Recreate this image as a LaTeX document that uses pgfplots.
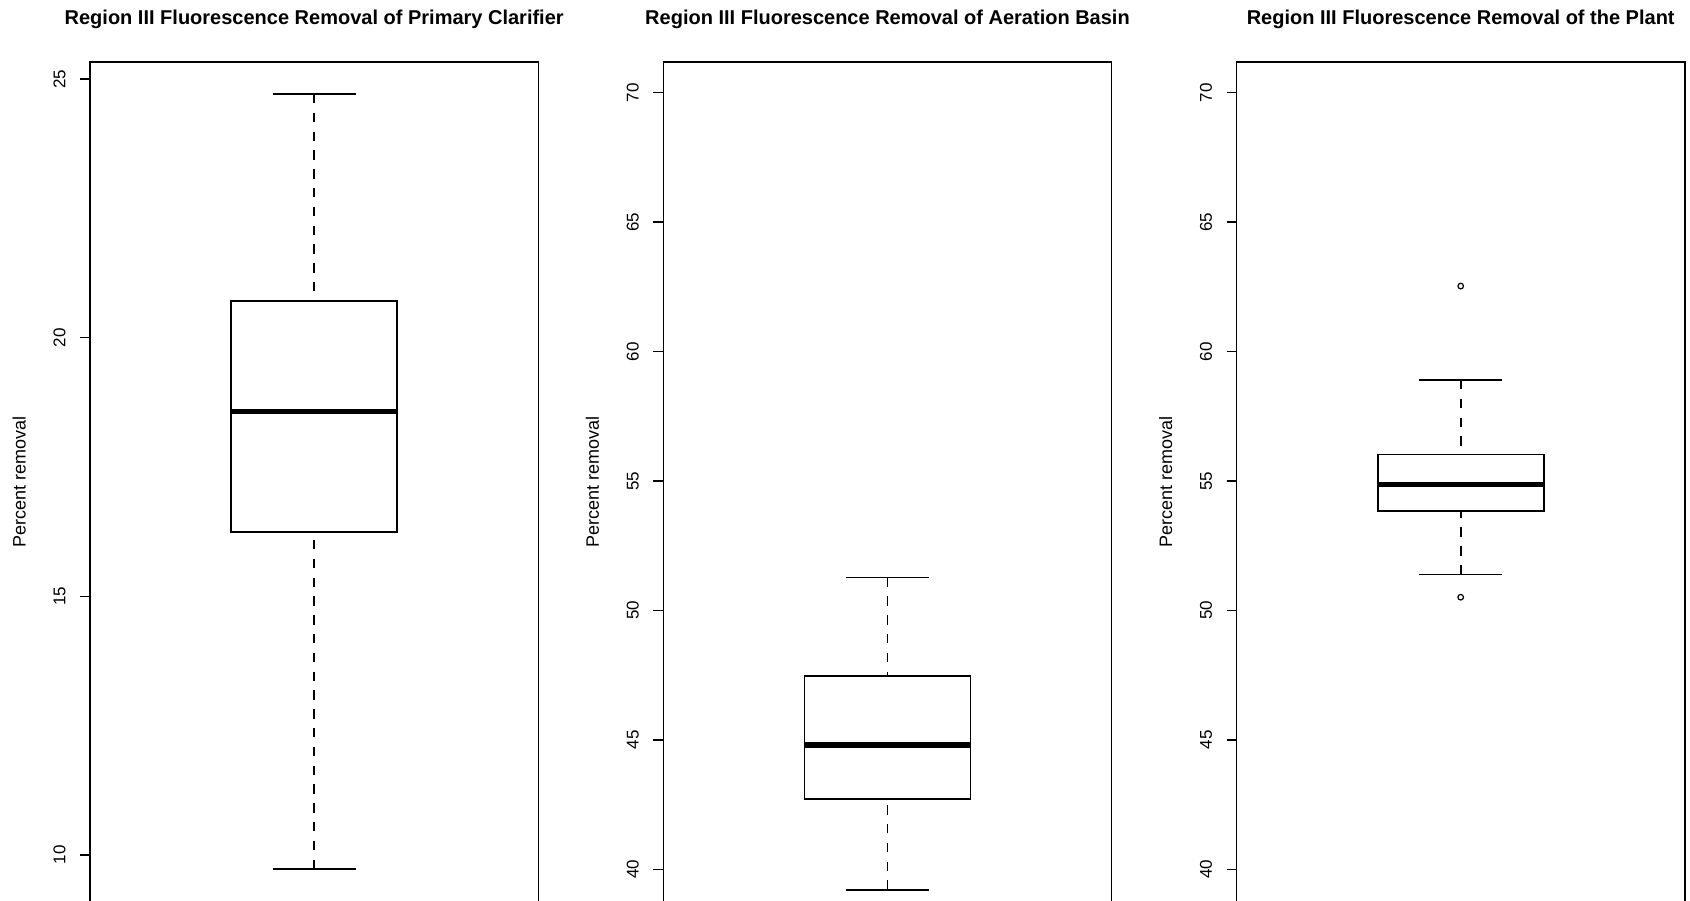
\documentclass[border=0pt]{standalone}
\usepackage{fontspec}
\setmainfont{Liberation Sans}
\usepackage{pgfplots}
\pgfplotsset{compat=1.18}
\pgfplotsset{
  rplot/.style={
    scale only axis, width=224.2pt, height=420pt, anchor=south west,
    xmin=0.46, xmax=1.54, xtick=\empty,
    axis line style={line width=0.7pt},
    ytick pos=left, tick align=outside, major tick length=5pt,
    tick style={line width=0.7pt, black},
    yticklabel style={rotate=90, anchor=south, inner sep=0pt, font=\fontsize{8.5}{10}\selectfont},
    yticklabel shift=7pt,
    /pgf/number format/assume math mode=true,
    ylabel={Percent removal},
    ylabel style={at={(axis description cs:-0.158,0.5)}, anchor=center, font=\fontsize{9}{11}\selectfont},
    every axis title/.style={at={(axis description cs:0.5,1)}, anchor=base, yshift=18.6pt, font=\bfseries\fontsize{10}{12}\selectfont},
  },
  rbox/.style={black, line width=0.9pt, line join=miter, mark=none},
  rmed/.style={black, line width=2.6pt, mark=none},
  rwhisk/.style={black, line width=0.9pt, dash pattern=on 4.7pt off 4.7pt, mark=none},
  rcap/.style={black, line width=0.9pt, solid, mark=none},
  rout/.style={black, only marks, mark=o, mark size=1.4pt, mark options={solid, line width=0.6pt}},
}
\begin{document}
\begin{tikzpicture}
\useasboundingbox (0,0) rectangle (845pt,450pt);
% Panel 1: Primary Clarifier
\begin{axis}[rplot, at={(45pt,-1pt)}, ymin=9.091, ymax=25.329, ytick={10,15,20,25},
  title={Region III Fluorescence Removal of Primary Clarifier}]
\addplot[rwhisk] coordinates {(1,24.71) (1,20.71)};
\addplot[rwhisk] coordinates {(1,9.73) (1,16.24)};
\addplot[rcap] coordinates {(0.9,24.71) (1.1,24.71)};
\addplot[rcap] coordinates {(0.9,9.73) (1.1,9.73)};
\addplot[rbox] coordinates {(0.8,16.24) (1.2,16.24) (1.2,20.71) (0.8,20.71)} -- cycle;
\addplot[rmed] coordinates {(0.8,18.57) (1.2,18.57)};
\end{axis}
% Panel 2: Aeration Basin
\begin{axis}[rplot, at={(331.65pt,-1pt)}, ymin=38.737, ymax=71.186, ytick={40,45,50,55,60,65,70},
  title={Region III Fluorescence Removal of Aeration Basin}]
\addplot[rwhisk] coordinates {(1,51.27) (1,47.47)};
\addplot[rwhisk] coordinates {(1,39.21) (1,42.71)};
\addplot[rcap] coordinates {(0.9,51.27) (1.1,51.27)};
\addplot[rcap] coordinates {(0.9,39.21) (1.1,39.21)};
\addplot[rbox] coordinates {(0.8,42.71) (1.2,42.71) (1.2,47.47) (0.8,47.47)} -- cycle;
\addplot[rmed] coordinates {(0.8,44.80) (1.2,44.80)};
\end{axis}
% Panel 3: the Plant
\begin{axis}[rplot, at={(618.25pt,-1pt)}, ymin=38.737, ymax=71.186, ytick={40,45,50,55,60,65,70},
  title={Region III Fluorescence Removal of the Plant}]
\addplot[rwhisk] coordinates {(1,58.90) (1,56.02)};
\addplot[rwhisk] coordinates {(1,51.39) (1,53.85)};
\addplot[rcap] coordinates {(0.9,58.90) (1.1,58.90)};
\addplot[rcap] coordinates {(0.9,51.39) (1.1,51.39)};
\addplot[rbox] coordinates {(0.8,53.85) (1.2,53.85) (1.2,56.02) (0.8,56.02)} -- cycle;
\addplot[rmed] coordinates {(0.8,54.85) (1.2,54.85)};
\addplot[rout] coordinates {(1,62.53) (1,50.51)};
\end{axis}
\end{tikzpicture}
\end{document}
